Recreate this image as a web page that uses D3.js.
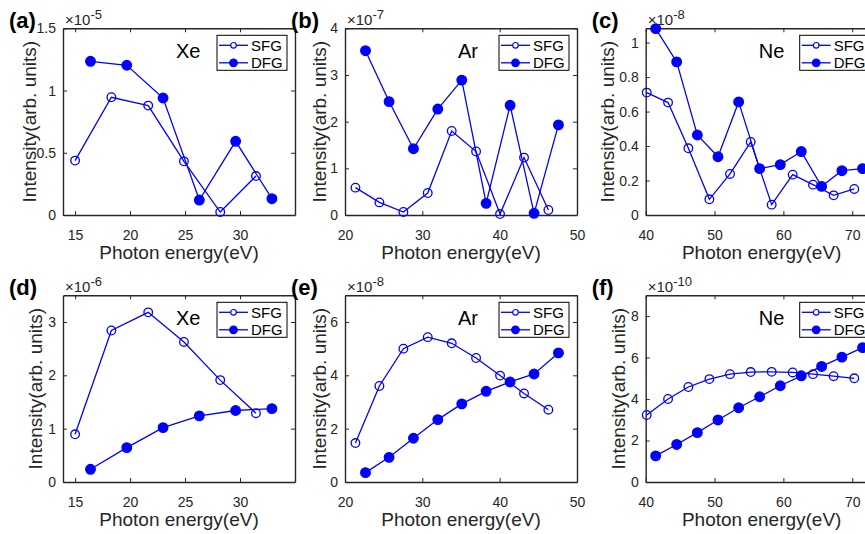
<!DOCTYPE html>
<html>
<head>
<meta charset="utf-8">
<script src="https://cdn.jsdelivr.net/npm/d3@7"></script>
<style>
  body { margin: 0; background: #fff; }
  svg { display: block; font-family: "Liberation Sans", Arial, sans-serif; }
</style>
</head>
<body>
<div id="chart"></div>
<script>
// photon energies (eV)
const xeSfgE = [15.0, 18.3, 21.65, 24.9, 28.2, 31.45];
const xeDfgE = [16.4, 19.7, 23.0, 26.3, 29.6, 32.9];
const arSfgE = [21.35, 24.45, 27.55, 30.7, 33.8, 36.95, 40.05, 43.15, 46.3];
const arDfgE = [22.65, 25.7, 28.85, 32.0, 35.1, 38.25, 41.35, 44.45, 47.6];
const neSfgE = [40.15, 43.25, 46.2, 49.25, 52.25, 55.25, 58.3, 61.35, 64.3, 67.3, 70.3];
const neDfgE = [41.45, 44.5, 47.5, 50.5, 53.5, 56.55, 59.55, 62.6, 65.55, 68.5, 71.5];

// top row intensities (scaled by the axis exponent)
const aSfg = [0.437, 0.946, 0.879, 0.431, 0.024, 0.313];
const aDfg = [1.235, 1.203, 0.94, 0.12, 0.592, 0.131];
const bSfg = [0.586, 0.27, 0.064, 0.471, 1.8, 1.36, 0.02, 1.23, 0.107];
const bDfg = [3.52, 2.43, 1.42, 2.27, 2.89, 0.25, 2.35, 0.036, 1.93];
const cSfg = [0.71, 0.652, 0.387, 0.091, 0.238, 0.424, 0.06, 0.234, 0.176, 0.114, 0.151];
const cDfg = [1.081, 0.888, 0.464, 0.338, 0.656, 0.269, 0.292, 0.368, 0.166, 0.257, 0.269];

// bottom row intensities
const dSfg = [0.894, 2.84, 3.18, 2.625, 1.91, 1.29];
const dDfg = [0.238, 0.644, 1.02, 1.24, 1.34, 1.375];
const eSfg = [1.46, 3.6, 5.0, 5.43, 5.2, 4.65, 3.99, 3.32, 2.71];
const eDfg = [0.35, 0.925, 1.64, 2.34, 2.93, 3.4, 3.75, 4.05, 4.84];
const fSfg = [3.23, 4.0, 4.58, 4.96, 5.2, 5.3, 5.31, 5.28, 5.2, 5.1, 5.0];
const fDfg = [1.26, 1.81, 2.38, 2.99, 3.58, 4.11, 4.64, 5.12, 5.57, 6.02, 6.48];

const panelTags = ["(a)", "(b)", "(c)", "(d)", "(e)", "(f)"];
const gases = ["Xe", "Ar", "Ne", "Xe", "Ar", "Ne"];
const exponents = ["-5", "-7", "-8", "-6", "-8", "-10"];
const seriesNames = ["SFG", "DFG"];

const panels = [
  { e: [xeSfgE, xeDfgE], v: [aSfg, aDfg], xd: [13.9, 35], xt: [15, 20, 25, 30], yd: [0, 1.5], yt: [0, 0.5, 1, 1.5], lab: 27 },
  { e: [arSfgE, arDfgE], v: [bSfg, bDfg], xd: [20, 50], xt: [20, 30, 40, 50], yd: [0, 4], yt: [0, 1, 2, 3, 4], lab: 19 },
  { e: [neSfgE, neDfgE], v: [cSfg, cDfg], xd: [40, 73.7], xt: [40, 50, 60, 70], yd: [0, 1.083], yt: [0, 0.2, 0.4, 0.6, 0.8, 1], lab: 32 },
  { e: [xeSfgE, xeDfgE], v: [dSfg, dDfg], xd: [13.9, 35], xt: [15, 20, 25, 30], yd: [0, 3.5], yt: [0, 1, 2, 3], lab: 21 },
  { e: [arSfgE, arDfgE], v: [eSfg, eDfg], xd: [20, 50], xt: [20, 30, 40, 50], yd: [0, 7], yt: [0, 2, 4, 6], lab: 19 },
  { e: [neSfgE, neDfgE], v: [fSfg, fDfg], xd: [40, 73.7], xt: [40, 50, 60, 70], yd: [0, 9], yt: [0, 2, 4, 6, 8], lab: 21 }
];

const W = 865, H = 534;
const colX = [63, 345, 645.7];
const rowY = [28.3, 295.3];
const pw = 232, ph = 186.7;
const blue = "#0000ff";
const axisColor = "#262626";

const svg = d3.select("#chart").append("svg")
  .attr("width", W).attr("height", H);

panels.forEach((p, i) => {
  const left = colX[i % 3], top = rowY[Math.floor(i / 3)];
  const g = svg.append("g").attr("transform", `translate(${left},${top})`);
  const x = d3.scaleLinear().domain(p.xd).range([0, pw]);
  const y = d3.scaleLinear().domain(p.yd).range([ph, 0]);
  const fmt = d => String(+d.toFixed(2));

  // axes with inward ticks on all four sides
  const axes = [
    { ax: d3.axisBottom(x).tickValues(p.xt).tickFormat(fmt), t: `translate(0,${ph})` },
    { ax: d3.axisTop(x).tickValues(p.xt).tickFormat(""), t: "translate(0,0)" },
    { ax: d3.axisLeft(y).tickValues(p.yt).tickFormat(fmt), t: "translate(0,0)" },
    { ax: d3.axisRight(y).tickValues(p.yt).tickFormat(""), t: `translate(${pw},0)` }
  ];
  axes.forEach((a, k) => {
    const s = g.append("g").attr("transform", a.t)
      .call(a.ax.tickSizeInner(-4).tickSizeOuter(0).tickPadding(k === 0 ? 15 : 7));
    s.select(".domain").attr("stroke", axisColor).attr("stroke-width", 1.4);
    s.selectAll(".tick line").attr("stroke", axisColor).attr("stroke-width", 1);
    s.selectAll(".tick text").attr("fill", "#262626").style("font-size", "14px");
  });

  // exponent label
  const ex = g.append("text").attr("x", 2).attr("y", -3)
    .attr("fill", "#262626").style("font-size", "15px");
  ex.append("tspan").text("\u00d710");
  ex.append("tspan").attr("dy", -6).style("font-size", "13px").text(exponents[i]);

  // panel tag
  g.append("text").attr("x", -54).attr("y", 0)
    .style("font-size", "22px").style("font-weight", "bold").attr("fill", "#000")
    .text(panelTags[i]);

  // axis titles
  g.append("text").attr("x", pw / 2).attr("y", ph + 44)
    .attr("text-anchor", "middle").style("font-size", "19px").attr("fill", "#262626")
    .text("Photon energy(eV)");
  g.append("text")
    .attr("transform", `translate(${-p.lab},${ph / 2}) rotate(-90)`)
    .attr("text-anchor", "middle").style("font-size", "19px").attr("fill", "#262626")
    .text("Intensity(arb. units)");

  // gas name
  g.append("text").attr("x", 113).attr("y", 30)
    .style("font-size", "20px").attr("fill", "#000").text(gases[i]);

  // series
  const line = d3.line().x(d => x(d[0])).y(d => y(d[1]));
  [1, 0].forEach(si => {
    const pts = p.e[si].map((e, j) => [e, p.v[si][j]]);
    g.append("path").datum(pts).attr("d", line)
      .attr("fill", "none").attr("stroke", blue).attr("stroke-width", 1.3);
    g.selectAll(null).data(pts).enter().append("circle")
      .attr("cx", d => x(d[0])).attr("cy", d => y(d[1]))
      .attr("r", si === 0 ? 4.3 : 4.8)
      .attr("fill", si === 0 ? "none" : blue)
      .attr("stroke", blue).attr("stroke-width", 1.3);
  });

  // legend
  const lg = g.append("g").attr("transform", "translate(154,7)");
  lg.append("rect").attr("width", 70).attr("height", 35)
    .attr("fill", "#fff").attr("stroke", "#000").attr("stroke-width", 1);
  seriesNames.forEach((name, k) => {
    const cy = 10 + k * 17.5;
    lg.append("line").attr("x1", 2).attr("x2", 31).attr("y1", cy).attr("y2", cy)
      .attr("stroke", blue).attr("stroke-width", 1.3);
    lg.append("circle").attr("cx", 16.5).attr("cy", cy).attr("r", k === 0 ? 2.8 : 3.8)
      .attr("fill", k === 0 ? "#fff" : blue).attr("stroke", blue).attr("stroke-width", 1.2);
    lg.append("text").attr("x", 34).attr("y", cy + 5.5)
      .style("font-size", "15px").attr("fill", "#000").text(name);
  });
});
</script>
</body>
</html>
